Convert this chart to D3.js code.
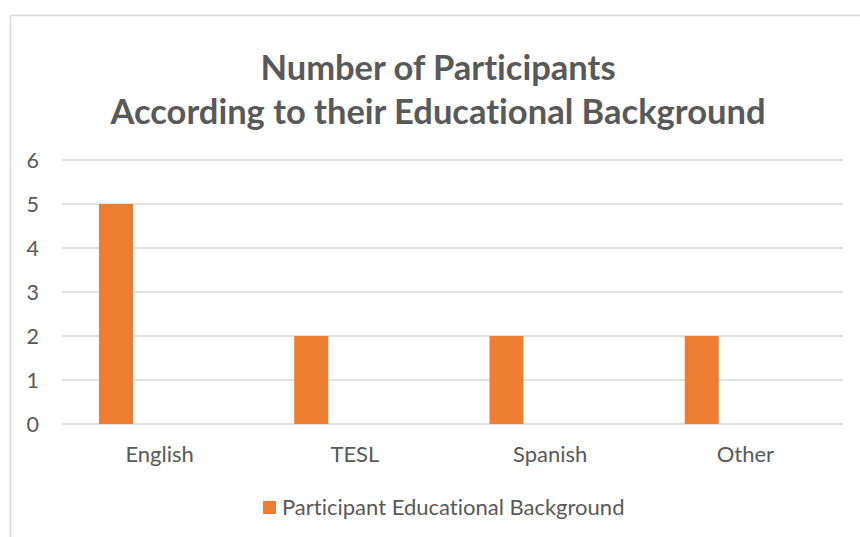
<!DOCTYPE html>
<html><head><meta charset="utf-8">
<script src="https://cdn.jsdelivr.net/npm/d3@7"></script>
<style>body{margin:0;background:#fff}svg{display:block}text{font-family:Lato,"Open Sans",sans-serif;font-variant-ligatures:none;font-feature-settings:"liga" 0,"dlig" 0}</style>
</head><body>
<svg id="c" width="860" height="537"></svg>
<script>
const categories = ["English", "TESL", "Spanish", "Other"];
const seriesName = "Participant Educational Background";
const values = [5, 2, 2, 2];
const yTicks = [0, 1, 2, 3, 4, 5, 6];
const titleLines = ["Number of Participants", "According to their Educational Background"];

const svg = d3.select("#c");
const W = 860, H = 537;
svg.append("rect").attr("x", 10.5).attr("y", 15.5).attr("width", W).attr("height", H)
  .attr("fill", "#fff").attr("stroke", "#d9d9d9").attr("stroke-width", 1.5);

const m = {left: 62, right: 843, top: 160, bottom: 424};
const x = d3.scaleBand().domain(categories).range([m.left, m.right]).padding(0);
const sub = d3.scaleBand().domain([seriesName, "_"]).range([0, x.bandwidth()]).paddingInner(0.61).paddingOuter(0.424);
const y = d3.scaleLinear().domain([0, 6]).range([m.bottom, m.top]);

svg.append("g").selectAll("line").data(yTicks).join("line")
  .attr("x1", m.left).attr("x2", m.right)
  .attr("y1", d => y(d)).attr("y2", d => y(d))
  .attr("stroke", "#d9d9d9").attr("stroke-width", 1.3);

svg.append("g").selectAll("text").data(yTicks).join("text")
  .attr("x", 39).attr("y", d => y(d)).attr("dy", "0.36em").attr("text-anchor", "end")
  .attr("font-size", 21.5).attr("fill", "#595959").text(d => d);

svg.append("g").selectAll("rect").data(values).join("rect")
  .attr("x", (d, i) => x(categories[i]) + sub(seriesName))
  .attr("width", sub.bandwidth())
  .attr("y", d => y(d)).attr("height", d => y(0) - y(d))
  .attr("fill", "#ED7D31");

svg.append("g").selectAll("text").data(categories).join("text")
  .attr("x", d => x(d) + x.bandwidth() / 2).attr("y", 462).attr("text-anchor", "middle")
  .attr("font-size", 22).attr("fill", "#595959").text(d => d);

svg.append("g").selectAll("text").data(titleLines).join("text")
  .attr("x", 438).attr("y", (d, i) => 80 + i * 44).attr("text-anchor", "middle")
  .attr("font-size", 34.5).attr("font-weight", "bold").attr("fill", "#595959").text(d => d);

const lg = svg.append("g");
lg.append("rect").attr("x", 263).attr("y", 501).attr("width", 13).attr("height", 13).attr("fill", "#ED7D31");
lg.append("text").attr("x", 282).attr("y", 515).attr("font-size", 22).attr("fill", "#595959").text(seriesName);
</script>
</body></html>
